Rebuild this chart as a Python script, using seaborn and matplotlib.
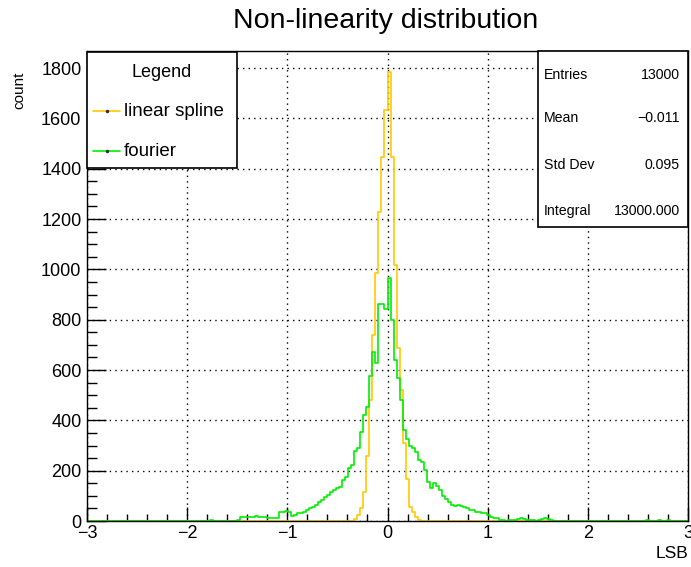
import numpy as np
import pandas as pd
import seaborn as sns
import matplotlib.pyplot as plt
from matplotlib.patches import Rectangle
from matplotlib.lines import Line2D
from matplotlib.ticker import MultipleLocator

# histogram binning: 200 bins over [-3, 3]
x_min, x_max, n_bins = -3.0, 3.0, 200

# linear spline: counts of consecutive bins starting at -0.33
spline_first = -0.33
spline_counts = [8, 22, 50, 117, 260, 481, 739, 984, 1229, 1445, 1635,
                 1785, 1445, 1018, 686, 521, 309, 167, 57, 37, 17, 5]

# fourier: counts of consecutive bins starting at -1.50
fourier_first = -1.50
fourier_counts = [5, 17, 17, 15, 17, 15, 20, 15, 17, 15, 10, 12, 10, 12,
                  35, 37, 40, 37, 20, 22, 31, 33, 37, 44, 50, 57, 64, 77,
                  83, 97, 103, 116, 123, 130, 136, 163, 176, 209, 222, 280,
                  290, 355, 420, 454, 575, 673, 627, 863, 863, 841,
                  964, 799, 640, 570, 480, 360, 325, 300, 289, 275, 242,
                  236, 203, 156, 130, 150, 139, 125, 100, 88, 75, 62, 60,
                  62, 58, 57, 52, 45, 42, 37, 35, 32, 30, 25, 17, 12, 10,
                  5, 3, 1, 2, 4, 5, 8, 10, 7, 4, 2, 2, 1, 2, 8, 10, 9, 3]
# a few isolated entries far out in the tails
fourier_extra_x = [-1.77, 2.58, 2.70, 2.79]
fourier_extra_n = [2, 2, 2, 3]

stats_names = ["Entries", "Mean", "Std Dev", "Integral"]
stats_values = ["13000", "\u22120.011", "0.095", "13000.000"]

col_spline = "#ffc800"
col_fourier = "#00f000"

# build the full bin arrays
edges = np.linspace(x_min, x_max, n_bins + 1)
bin_w = edges[1] - edges[0]
centers = edges[:-1] + bin_w / 2


def fill_bins(first, counts):
    h = np.zeros(n_bins)
    i0 = int(round((first - x_min) / bin_w))
    h[i0:i0 + len(counts)] = counts
    return h


h_spline = fill_bins(spline_first, spline_counts)
h_fourier = fill_bins(fourier_first, fourier_counts)
for xv, nv in zip(fourier_extra_x, fourier_extra_n):
    h_fourier[int((xv - x_min) // bin_w)] += nv

df = pd.DataFrame({
    "LSB": np.concatenate([centers, centers]),
    "count": np.concatenate([h_spline, h_fourier]),
    "series": ["linear spline"] * n_bins + ["fourier"] * n_bins,
})

sns.set_theme(style="white")
plt.rcParams["font.family"] = ["Liberation Sans", "DejaVu Sans"]
plt.rcParams["text.color"] = "black"

W, H = 691, 567
fig = plt.figure(figsize=(W / 100, H / 100), dpi=100)


def fx(px):
    return px / W


def fy(py):
    return 1 - py / H


ax = fig.add_axes([fx(87), fy(521), fx(688) - fx(87), fy(51) - fy(521)])

for name, col in [("linear spline", col_spline), ("fourier", col_fourier)]:
    sns.histplot(data=df[df.series == name], x="LSB", weights="count",
                 bins=n_bins, binrange=(x_min, x_max), element="step",
                 fill=False, color=col, linewidth=1.2, ax=ax)

ax.set_xlim(x_min, x_max)
ax.set_ylim(0, 1868)
ax.set_xlabel("")
ax.set_ylabel("")

ax.xaxis.set_major_locator(MultipleLocator(1))
ax.xaxis.set_minor_locator(MultipleLocator(0.2))
ax.yaxis.set_major_locator(MultipleLocator(200))
ax.yaxis.set_minor_locator(MultipleLocator(50))
ax.tick_params(which="both", direction="in", bottom=True, left=True,
               top=False, right=False, colors="black", labelcolor="black",
               labelsize=13, width=1)
ax.tick_params(axis="x", which="major", length=10, pad=3)
ax.tick_params(axis="x", which="minor", length=5)
ax.tick_params(axis="y", which="major", length=13.5, pad=4)
ax.tick_params(axis="y", which="minor", length=7)
ax.grid(True, which="major", color="black", linestyle=(0, (1, 3)), linewidth=1)
for s in ax.spines.values():
    s.set_color("black")
    s.set_linewidth(1)

# titles and axis labels
fig.text(fx(386), fy(21), "Non-linearity distribution", ha="center",
         va="center", fontsize=20.5)
fig.text(fx(19), fy(72), "count", rotation=90, ha="center", va="top",
         fontsize=11)
fig.text(fx(688), fy(553), "LSB", ha="right", va="center", fontsize=12.5)

# legend box
fig.patches.append(Rectangle((fx(87), fy(168)), fx(237) - fx(87),
                             fy(52) - fy(168), transform=fig.transFigure,
                             facecolor="white", edgecolor="black", lw=1.2,
                             zorder=5))
fig.text(fx(162), fy(73), "Legend", ha="center", va="center", fontsize=13,
         zorder=6)
for yy, name, col in [(111, "linear spline", col_spline),
                      (151, "fourier", col_fourier)]:
    fig.lines.append(Line2D([fx(93), fx(120)], [fy(yy), fy(yy)],
                            transform=fig.transFigure, color=col, lw=1.2,
                            zorder=6))
    fig.lines.append(Line2D([fx(106.5)], [fy(yy)], transform=fig.transFigure,
                            marker="o", markersize=1.5, color="#333333",
                            zorder=7))
    fig.text(fx(124), fy(yy), name, ha="left", va="center", fontsize=13.5,
             zorder=6)

# statistics box
fig.patches.append(Rectangle((fx(538), fy(227)), fx(688) - fx(538),
                             fy(51) - fy(227), transform=fig.transFigure,
                             facecolor="white", edgecolor="black", lw=1.2,
                             zorder=5))
for yy, name, val in zip([75, 118, 165, 211], stats_names, stats_values):
    fig.text(fx(544), fy(yy), name, ha="left", va="center", fontsize=10.2,
             zorder=6)
    fig.text(fx(680), fy(yy), val, ha="right", va="center", fontsize=10.2,
             zorder=6)

fig.savefig("out.png", dpi=100)
